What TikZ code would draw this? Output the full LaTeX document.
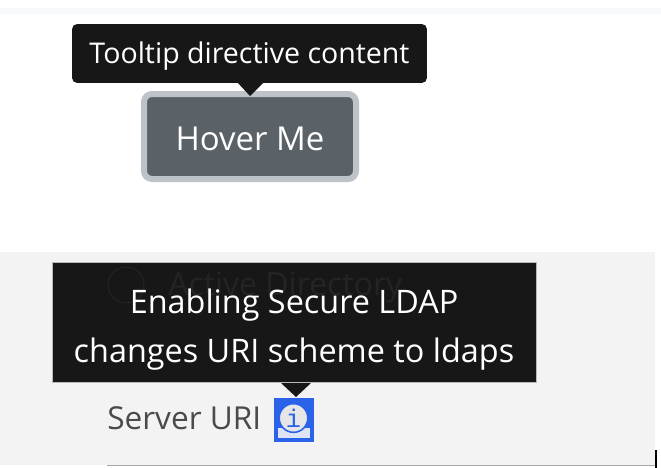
\documentclass[tikz,border=0pt]{standalone}
\usepackage{fontspec}
\setmainfont{Open Sans}
\newfontfamily\infofont{Liberation Mono}
\definecolor{tipblack}{HTML}{171717}
\definecolor{hiddenink}{HTML}{242424}
\definecolor{panelgrey}{HTML}{F3F3F3}
\definecolor{stripgrey}{HTML}{F8F9FA}
\definecolor{btngrey}{HTML}{5A6268}
\definecolor{btnring}{HTML}{BEC3C9}
\definecolor{uritext}{HTML}{4A4A4A}
\definecolor{infoblue}{HTML}{2B62EA}
\definecolor{infofill}{HTML}{E6E6E6}
\definecolor{infopale}{HTML}{DDE4F5}
\tikzset{
  tipbox/.style={fill=tipblack,text=white,inner sep=0pt,anchor=center,align=center},
  tiparrow/.style={fill=tipblack,draw=none},
}
\begin{document}
\begin{tikzpicture}[x=0.75pt,y=-0.75pt]
  \useasboundingbox (0,0) rectangle (661,468);

  \fill[white] (0,0) rectangle (661,468);
  \fill[stripgrey] (0,8) rectangle (661,14);
  \fill[panelgrey] (0,252) rectangle (655,465);

  % upper tooltip and button
  \node[draw=btnring,line width=4.5pt,fill=btngrey,rounded corners=6pt,minimum width=159pt,minimum height=63.75pt,inner sep=0pt,text=white,text height=20.6pt,font=\fontsize{24.7}{28}\selectfont] (hoverbtn) at (250,136.5) {Hover Me};
  \node[tipbox,rounded corners=3.5pt,minimum width=266pt,minimum height=44pt,text height=20.8pt,font=\fontsize{21.4}{26}\selectfont] (tiptop) at (249.5,53.5) {Tooltip directive content};
  \coordinate (topa) at (237,82);
  \coordinate (topb) at (264,82);
  \coordinate (topc) at (250,96);
  \fill[tiparrow] (topa) -- (topb) -- (topc) -- cycle;

  % lower tooltip, the radio row shows faintly through it
  \node[tipbox,draw=gray!55,line width=0.6pt,minimum width=363pt,minimum height=90pt] (tipbot) at (294,322) {};
  \node[draw=hiddenink,line width=0.8pt,circle,minimum size=27pt,inner sep=0pt] (radio) at (126,285) {};
  \node[text=hiddenink,anchor=west,inner sep=0pt,font=\fontsize{24}{28}\selectfont] (radiolbl) at (168,288) {Active Directory};
  \node[text=white,inner sep=0pt,align=center,font=\fontsize{24.3}{36.75}\selectfont] (tiplbl) at (294,330) {Enabling Secure LDAP\\changes URI scheme to ldaps};
  \coordinate (bota) at (281,383);
  \coordinate (botb) at (311,383);
  \coordinate (botc) at (296,397);
  \fill[tiparrow] (bota) -- (botb) -- (botc) -- cycle;

  % server uri row
  \node[text=uritext,anchor=west,inner sep=0pt,font=\fontsize{23.7}{28}\selectfont] (urilbl) at (107,418) {Server URI};
  \node[draw=infoblue,fill=infoblue,line width=3pt,minimum width=27pt,minimum height=30pt,inner sep=0pt] (infobox) at (293.5,420) {};
  \fill[infopale] ([shift={(4,-4)}]infobox.south west) rectangle ([shift={(-4,-14)}]infobox.south east);
  \node[circle,draw=infoblue,fill=infofill,line width=1.2pt,minimum size=21.5pt,inner sep=0pt,text=infoblue,font=\infofont\fontsize{19}{19}\selectfont] (infoicon) at (293.5,418) {i};

  \coordinate (rulea) at (107,465.5);
  \coordinate (ruleb) at (655,465.5);
  \draw[gray!70,line width=0.8pt] (rulea) -- (ruleb);
  \coordinate (marka) at (656,450);
  \coordinate (markb) at (656,468);
  \draw[black,line width=0.8pt] (marka) -- (markb);
\end{tikzpicture}
\end{document}
